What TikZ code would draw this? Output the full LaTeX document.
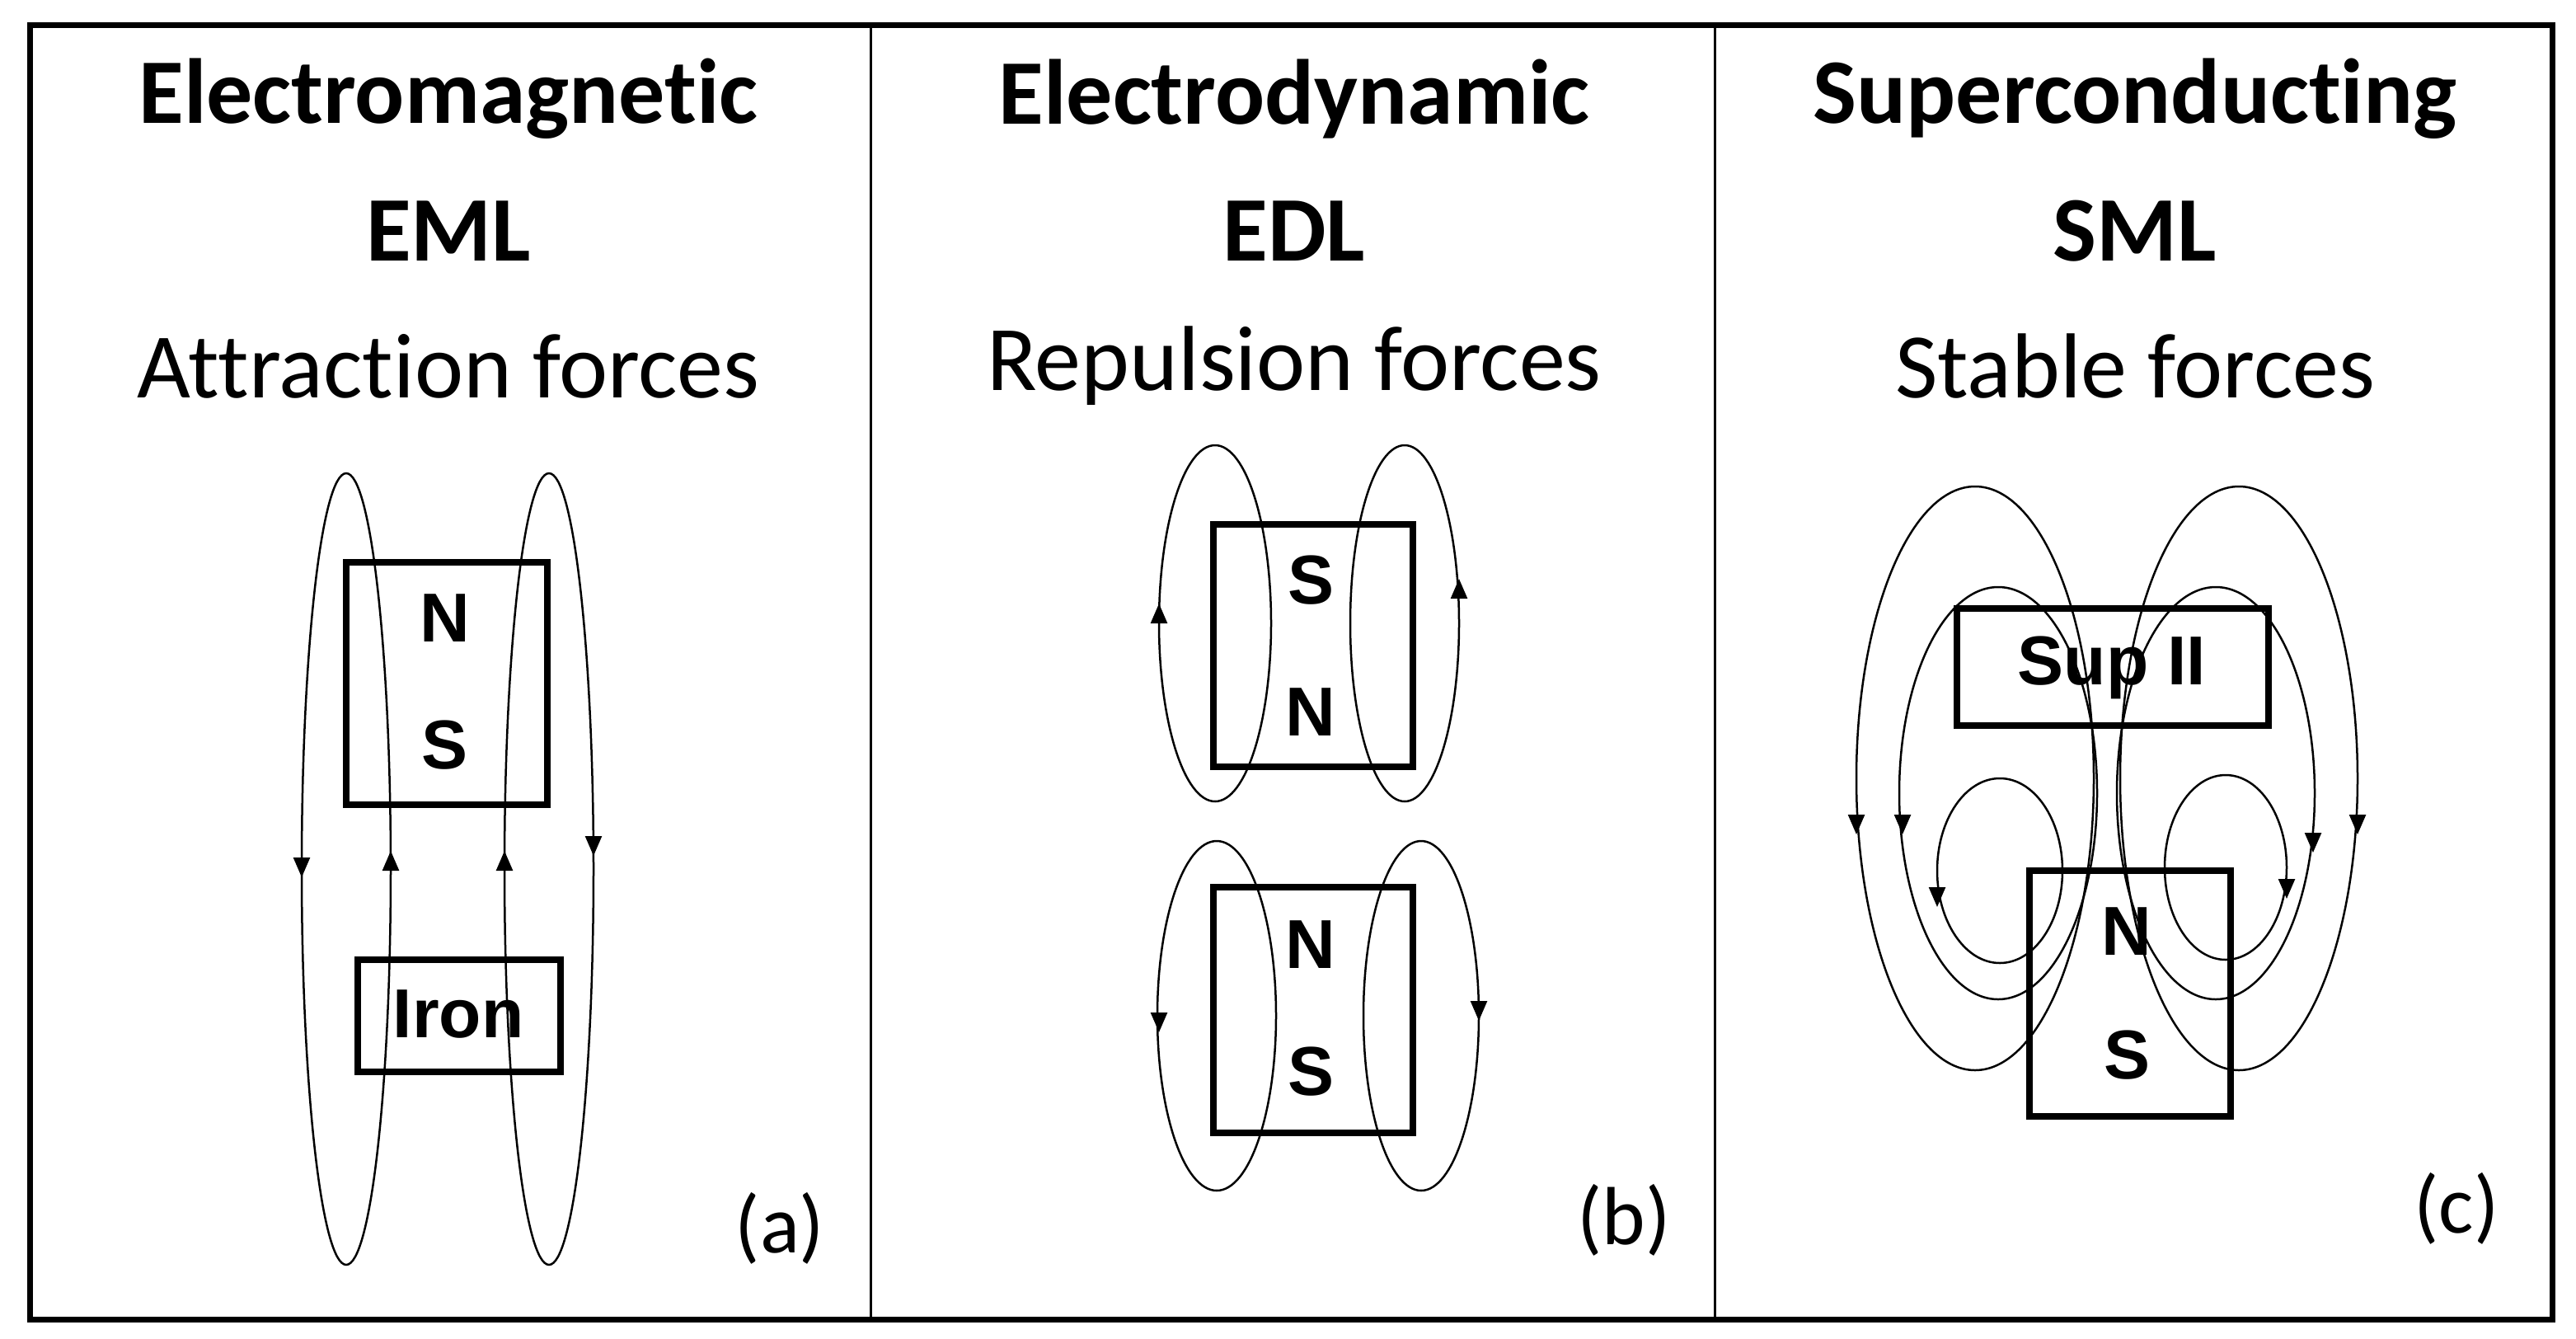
\documentclass[tikz,border=0pt]{standalone}
\usepackage{fontspec}
\setmainfont{Carlito}[Ligatures=NoCommon]
\newfontfamily\arialf{Liberation Sans}
\usetikzlibrary{arrows.meta}
\begin{document}
\begin{tikzpicture}[x=2pt,y=-2pt,
  fl/.style={line width=2.5pt},
  tip/.style={line width=2.5pt,-{Triangle[width=20pt,length=24pt]}},
  mag/.style={draw,line width=8pt,inner sep=0pt},
  pole/.style={font=\arialf\bfseries\fontsize{84}{84}\selectfont,inner sep=0pt},
  ttl/.style={font=\bfseries\fontsize{112}{112}\selectfont,inner sep=0pt},
  sub/.style={font=\fontsize{112}{112}\selectfont,inner sep=0pt},
  lab/.style={font=\fontsize{100}{100}\selectfont,inner sep=0pt}]
\useasboundingbox (0,0) rectangle (1562.5,811.5);
\fill[white] (0,0) rectangle (1562.5,811.5);
% frame
\draw[line width=7pt] (18,15) rectangle (1548,800);
\draw[line width=3pt] (528,15) -- (528,800);
\draw[line width=3pt] (1040,15) -- (1040,800);
% titles
\node[ttl] (t1) at (272,60) {Electromagnetic};
\node[ttl] (t2) at (272,140) {EML};
\node[sub] (t3) at (272,222) {Attraction forces};
\node[ttl] (t4) at (785,60) {Electrodynamic};
\node[ttl] (t5) at (785,140) {EDL};
\node[sub] (t6) at (785,222) {Repulsion forces};
\node[ttl] (t7) at (1295,60) {Superconducting};
\node[ttl] (t8) at (1295,140) {SML};
\node[sub] (t9) at (1295,222) {Stable forces};
\node[lab] (la) at (473,745) {(a)};
\node[lab] (lb) at (985,740) {(b)};
\node[lab] (lc) at (1490,733) {(c)};
% panel a
\draw[fl] (210,527) ellipse [x radius=27, y radius=240];
\draw[fl] (333,527) ellipse [x radius=27, y radius=240];
\draw[tip] (183,520) -- (183,532);
\draw[tip] (360,507) -- (360,519);
\draw[tip] (237,528) -- (237,516);
\draw[tip] (306,528) -- (306,516);
\node[mag,minimum width=244pt,minimum height=294pt] (ma) at (271,414.5) {};
\node[pole] (na) at (270,375) {N};
\node[pole] (sa) at (270,452) {S};
\node[mag,minimum width=246pt,minimum height=136pt] (iron) at (278.5,616) {};
\node[pole] at (278,615) {Iron};
% panel b
\draw[fl] (737,378) ellipse [x radius=34, y radius=108];
\draw[fl] (852,378) ellipse [x radius=33, y radius=108];
\draw[tip] (703,378) -- (703,366);
\draw[tip] (885,363) -- (885,351);
\node[mag,minimum width=242pt,minimum height=294pt] (mb1) at (796.5,391.5) {};
\node[pole] (sb1) at (795,352) {S};
\node[pole] (nb1) at (795,432) {N};
\draw[fl] (738,616) ellipse [x radius=36, y radius=106];
\draw[fl] (862,616) ellipse [x radius=35, y radius=106];
\draw[tip] (703,614) -- (703,626);
\draw[tip] (897,607) -- (897,619);
\node[mag,minimum width=242pt,minimum height=298pt] (mb2) at (796.5,612.5) {};
\node[pole] (nb2) at (795,573) {N};
\node[pole] (sb2) at (795,650) {S};
% panel c
\draw[fl] (1198,472) ellipse [x radius=72, y radius=177];
\draw[fl] (1212,481) ellipse [x radius=60, y radius=125];
\draw[fl] (1213,528) ellipse [x radius=38, y radius=56];
\draw[fl] (1358,472) ellipse [x radius=72, y radius=177];
\draw[fl] (1344,481) ellipse [x radius=60, y radius=125];
\draw[fl] (1350,526) ellipse [x radius=37, y radius=56];
\draw[tip] (1126,494) -- (1126,506);
\draw[tip] (1154,494) -- (1154,506);
\draw[tip] (1175,538) -- (1175,550);
\draw[tip] (1430,494) -- (1430,506);
\draw[tip] (1403,505) -- (1403,517);
\draw[tip] (1387,533) -- (1387,545);
\node[mag,minimum width=378pt,minimum height=142pt] (sup) at (1281.5,404.5) {};
\node[pole] at (1281,405) {Sup II};
\node[mag,minimum width=244pt,minimum height=298pt] (mc) at (1292,602.5) {};
\node[pole] (nc) at (1290,565) {N};
\node[pole] (sc) at (1290,640) {S};
\end{tikzpicture}
\end{document}
